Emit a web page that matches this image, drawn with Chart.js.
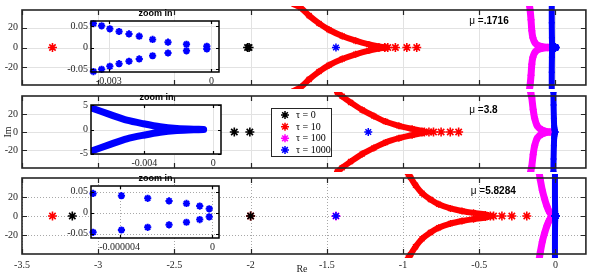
<!DOCTYPE html>
<html><head><meta charset="utf-8">
<script src="https://cdn.jsdelivr.net/npm/chart.js@4/dist/chart.umd.min.js"></script>
<style>
html,body{margin:0;padding:0;background:#fff;}
#wrap{position:relative;width:592px;height:277px;overflow:hidden;background:#fff;}
canvas{position:absolute;}
</style></head><body>
<div id="wrap">
<canvas id="p1" width="592" height="95" style="left:0;top:0;width:592px;height:95px"></canvas>
<canvas id="p2" width="592" height="92" style="left:0;top:86px;width:592px;height:92px"></canvas>
<canvas id="p3" width="592" height="109" style="left:0;top:168px;width:592px;height:109px"></canvas>
<canvas id="i1" width="180" height="85" style="left:45px;top:5px;width:180px;height:85px"></canvas>
<canvas id="i2" width="180" height="83" style="left:45px;top:89px;width:180px;height:83px"></canvas>
<canvas id="i3" width="180" height="86" style="left:45px;top:170px;width:180px;height:86px"></canvas>
</div>
<script>
// ---------- labels / ticks ----------
const seriesNames = ['τ = 0', 'τ = 10', 'τ = 100', 'τ = 1000'];
const seriesColors = ['#000000', '#ff0000', '#ff00ff', '#0000ff'];
const muLabels = ['.1716', '3.8', '5.8284'];
const mainXTicks = [-3.5, -3, -2.5, -2, -1.5, -1, -0.5, 0];
const mainXTickLabels = ['-3.5', '-3', '-2.5', '-2', '-1.5', '-1', '-0.5', '0'];
const mainYTicks = [-20, 0, 20];
const mainYTickLabels = ['-20', '0', '20'];
const inset1XTicks = [-0.003, 0];
const inset1XTickLabels = ['-0.003', '0'];
const inset1YTicks = [-0.05, 0, 0.05];
const inset1YTickLabels = ['-0.05', '0', '0.05'];
const inset2XTicks = [-0.004, 0];
const inset2XTickLabels = ['-0.004', '0'];
const inset2YTicks = [-5, 0, 5];
const inset2YTickLabels = ['-5', '0', '5'];
const inset3XTicks = [-0.000004, 0];
const inset3XTickLabels = ['-0.000004', '0'];
const inset3YTicks = [-0.05, 0, 0.05];
const inset3YTickLabels = ['-0.05', '0', '0.05'];

// ---------- data: panel 1 (mu = .1716) ----------  [Re, Im]; branches give the Im>=0 half
const p1Black = [[-2.02, 0], [-2.01, 0]];
const p1RedReal = [[-3.30, 0], [-1.12, 0], [-1.10, 0], [-1.05, 0], [-0.975, 0], [-0.91, 0]];
const p1RedUpper = [[-1.72, 44], [-1.671, 40.2], [-1.616, 32.3], [-1.551, 24.4], [-1.486, 18.0], [-1.399, 11.7], [-1.311, 6.9], [-1.224, 3.1], [-1.158, 0.95], [-1.115, 0.2]];
const p1MagentaUpper = [[-0.172, 44], [-0.166, 38], [-0.160, 28], [-0.155, 17], [-0.148, 10], [-0.135, 5], [-0.115, 2.2], [-0.085, 0.8], [-0.05, 0.2], [-0.03, 0]];
const p1BlueReal = [[-1.44, 0]];
const p1BlueUpper = [[-0.024, 44], [-0.024, 25], [-0.023, 10], [-0.022, 3], [-0.020, 0.5], [-0.018, 0]];
const p1BlueNearRe = [-0.00345, -0.00321, -0.00297, -0.0027, -0.00241, -0.00211, -0.00172, -0.00127, -0.00073, -0.000136];
const p1BlueNearIm = [0.056, 0.0507, 0.0438, 0.0375, 0.0319, 0.0265, 0.0191, 0.0127, 0.0077, 0.0031];

// ---------- data: panel 2 (mu = 3.8) ----------
const p2Black = [[-2.107, 0], [-2.005, 0]];
const p2RedReal = [[-0.86, 0], [-0.83, 0], [-0.80, 0], [-0.75, 0], [-0.69, 0], [-0.635, 0]];
const p2RedUpper = [[-1.43, 44], [-1.399, 39.7], [-1.344, 32.9], [-1.268, 24.5], [-1.191, 17.7], [-1.115, 11.6], [-1.027, 6.9], [-0.940, 3.5], [-0.875, 1.2], [-0.86, 0.3]];
const p2MagentaUpper = [[-0.162, 44], [-0.155, 38], [-0.146, 25], [-0.136, 15], [-0.120, 7], [-0.100, 3.5], [-0.070, 1.0], [-0.035, 0]];
const p2BlueReal = [[-1.228, 0]];
const p2BlueUpper = [[-0.013, 44], [-0.012, 30], [-0.010, 15], [-0.0085, 7], [-0.0079, 5.5], [-0.00709, 4.5], [-0.00598, 3.1], [-0.00502, 1.94], [-0.00405, 1.19], [-0.00308, 0.56], [-0.00211, 0.21], [-0.00113, 0.05], [-0.00056, 0.02]];

// ---------- data: panel 3 (mu = 5.8284) ----------
const p3Black = [[-3.17, 0], [-2.0, 0]];
const p3RedReal = [[-3.30, 0], [-2.0, 0], [-0.493, 0], [-0.46, 0], [-0.427, 0], [-0.406, 0], [-0.351, 0], [-0.286, 0], [-0.188, 0]];
const p3RedUpper = [[-0.965, 44], [-0.951, 40.7], [-0.918, 32.3], [-0.875, 24], [-0.820, 17.3], [-0.766, 12.3], [-0.689, 8], [-0.613, 5.3], [-0.537, 3.3], [-0.460, 1.7], [-0.44, 0.6]];
const p3MagentaReal = [[-1.44, 0]];
const p3MagentaUpper = [[-0.105, 44], [-0.099, 38], [-0.086, 27], [-0.071, 18], [-0.055, 10], [-0.042, 5], [-0.031, 2], [-0.024, 0.4]];
const p3BlueReal = [[-1.44, 0]];
const p3BlueUpper = [[-0.003, 44], [-0.003, 20], [-0.002, 5], [-0.001, 1], [-0.0002, 0.1]];
const p3BlueNearRe = [-5.14e-6, -3.92e-6, -2.79e-6, -1.87e-6, -1.12e-6, -0.55e-6, -0.14e-6];
const p3BlueNearIm = [0.0464, 0.0409, 0.0345, 0.0285, 0.0224, 0.0161, 0.0096];

// ---------- helpers ----------
const [BLACK, RED, MAG, BLUE] = seriesColors;
const xy = arr => arr.map(([x, y]) => ({ x, y }));
function conj(upper) { return upper.concat(upper.map(([x, y]) => [x, -y]).reverse()); }
function pairs(re, im) { return re.flatMap((x, i) => [[x, im[i]], [x, -im[i]]]); }
function pts(arr, color, r, w) {
  return { data: xy(arr), showLine: false, pointStyle: 'star', pointRadius: r, pointBorderWidth: w,
    borderColor: color, backgroundColor: color, pointBorderColor: color, clip: false };
}
function band(arr, color, lw, r, clip) {
  return { data: xy(arr), showLine: true, borderWidth: lw, borderColor: color, backgroundColor: color,
    pointStyle: 'star', pointRadius: r, pointBorderWidth: 1.5, pointBorderColor: color,
    borderJoinStyle: 'round', borderCapStyle: 'round', tension: 0.25, clip: clip };
}

const styles = {
  p1: { grid: '#e2e2e2', dash: [], frame: '#262626', fw: 1.6, tick: 5, fill: false },
  p2: { grid: '#e2e2e2', dash: [], frame: '#262626', fw: 1.6, tick: 5, fill: false },
  p3: { grid: '#a8a8a8', dash: [1, 2], frame: '#262626', fw: 1.6, tick: 5, fill: false },
  i1: { grid: '#e2e2e2', dash: [], frame: '#000', fw: 1.5, tick: 3, fill: true },
  i2: { grid: '#e2e2e2', dash: [], frame: '#000', fw: 1.5, tick: 3, fill: true },
  i3: { grid: '#a8a8a8', dash: [1, 2], frame: '#000', fw: 1.5, tick: 3, fill: true }
};

function drawStar(c, x, y, r, color, lw) {
  c.save(); c.strokeStyle = color; c.lineWidth = lw; c.beginPath();
  for (let k = 0; k < 4; k++) {
    const a = k * Math.PI / 4, dx = Math.cos(a) * r, dy = Math.sin(a) * r;
    c.moveTo(x - dx, y - dy); c.lineTo(x + dx, y + dy);
  }
  c.stroke(); c.restore();
}
function drawMu(ch, re, im, num) {
  const c = ch.ctx, x = ch.scales.x.getPixelForValue(re), y = ch.scales.y.getPixelForValue(im);
  c.save(); c.textBaseline = 'middle'; c.textAlign = 'left'; c.fillStyle = '#000';
  c.font = '10px "Liberation Sans", Arial, sans-serif';
  c.fillText('μ =', x, y); const w = c.measureText('μ =').width;
  c.font = 'bold 10px "Liberation Sans", Arial, sans-serif';
  c.fillText(num, x + w, y); c.restore();
}
function drawZoomTitle(ch) {
  const c = ch.ctx, a = ch.chartArea;
  c.save(); c.textAlign = 'center'; c.textBaseline = 'middle'; c.fillStyle = '#000';
  c.font = 'bold 9px "Liberation Sans", Arial, sans-serif';
  c.fillText('zoom in', (a.left + a.right) / 2 + 0.5, a.top - 7); c.restore();
}
function drawLegend(ch) {
  const c = ch.ctx;
  c.save(); c.fillStyle = '#fff'; c.fillRect(271, 22, 61, 49);
  c.strokeStyle = '#262626'; c.lineWidth = 1; c.strokeRect(271.5, 22.5, 60, 48);
  c.font = '10px "Liberation Serif", "Times New Roman", serif'; c.fillStyle = '#000';
  c.textBaseline = 'middle'; c.textAlign = 'left';
  seriesNames.forEach((n, i) => {
    const y = 29 + i * 11.65;
    drawStar(c, 285, y, 4, seriesColors[i], 1.5);
    c.fillText(n, 296, y + 0.5);
  });
  c.restore();
}
function drawAxisWord(ch, text, x, y, rot) {
  const c = ch.ctx; c.save(); c.translate(x, y); if (rot) c.rotate(-Math.PI / 2);
  c.font = '10px "Liberation Serif", "Times New Roman", serif'; c.fillStyle = '#262626';
  c.textAlign = 'center'; c.textBaseline = 'middle'; c.fillText(text, 0, 0); c.restore();
}

const extras = {
  p1: ch => drawMu(ch, -0.565, 26.5, muLabels[0]),
  p2: ch => { drawMu(ch, -0.565, 23.8, muLabels[1]); drawLegend(ch); const a = ch.chartArea; drawAxisWord(ch, 'Im', 8, (a.top + a.bottom) / 2, true); },
  p3: ch => { drawMu(ch, -0.555, 25.7, muLabels[2]); drawAxisWord(ch, 'Re', 302, 101, false); },
  i1: drawZoomTitle, i2: drawZoomTitle, i3: drawZoomTitle
};

const framePlugin = {
  id: 'mframe',
  beforeDraw(ch) {
    const s = styles[ch.canvas.id], a = ch.chartArea, c = ch.ctx;
    if (s.fill) { c.save(); c.fillStyle = '#fff'; c.fillRect(a.left, a.top, a.right - a.left, a.bottom - a.top); c.restore(); }
  },
  beforeDatasetsDraw(ch) {
    const s = styles[ch.canvas.id], a = ch.chartArea, c = ch.ctx, xs = ch.scales.x, ys = ch.scales.y;
    c.save(); c.strokeStyle = s.grid; c.lineWidth = 1; c.setLineDash(s.dash); c.beginPath();
    xs.ticks.forEach(t => { const p = Math.round(xs.getPixelForValue(t.value)) + 0.5; c.moveTo(p, a.top); c.lineTo(p, a.bottom); });
    ys.ticks.forEach(t => { const p = Math.round(ys.getPixelForValue(t.value)) + 0.5; c.moveTo(a.left, p); c.lineTo(a.right, p); });
    c.stroke(); c.restore();
  },
  afterDatasetsDraw(ch) {
    const s = styles[ch.canvas.id], a = ch.chartArea, c = ch.ctx, xs = ch.scales.x, ys = ch.scales.y, L = s.tick;
    c.save(); c.strokeStyle = s.frame; c.lineWidth = 1.2; c.beginPath();
    xs.ticks.forEach(t => { const p = Math.round(xs.getPixelForValue(t.value)) + 0.5;
      c.moveTo(p, a.top); c.lineTo(p, a.top + L); c.moveTo(p, a.bottom); c.lineTo(p, a.bottom - L); });
    ys.ticks.forEach(t => { const p = Math.round(ys.getPixelForValue(t.value)) + 0.5;
      c.moveTo(a.left, p); c.lineTo(a.left + L, p); c.moveTo(a.right, p); c.lineTo(a.right - L, p); });
    c.stroke();
    c.lineWidth = s.fw; c.strokeRect(a.left, a.top, a.right - a.left, a.bottom - a.top);
    c.restore();
  },
  afterDraw(ch) { const f = extras[ch.canvas.id]; if (f) f(ch); }
};

const tickFont = { family: '"Liberation Serif", "Times New Roman", serif', size: 10 };
function makeChart(id, o) {
  return new Chart(document.getElementById(id), {
    type: 'scatter',
    data: { datasets: o.datasets },
    options: {
      responsive: false, animation: false, devicePixelRatio: 1, events: [],
      layout: { padding: { top: o.padTop, right: o.padRight, left: 0, bottom: 0 } },
      plugins: { legend: { display: false }, tooltip: { enabled: false }, title: { display: false } },
      scales: {
        x: { type: 'linear', position: 'bottom', min: o.xMin, max: o.xMax, bounds: 'data',
          afterBuildTicks: s => { s.ticks = o.xTicks.map(v => ({ value: v })); },
          afterFit: s => { s.height = o.bottomH; },
          grid: { display: false, drawTicks: false }, border: { display: false },
          ticks: { display: o.showX, autoSkip: false, maxRotation: 0, minRotation: 0, padding: o.xPad,
            color: '#262626', font: tickFont, callback: (v, i) => o.xLabels[i] } },
        y: { type: 'linear', position: 'left', min: o.yMin, max: o.yMax, bounds: 'data',
          afterBuildTicks: s => { s.ticks = o.yTicks.map(v => ({ value: v })); },
          afterFit: s => { s.width = o.leftW; },
          grid: { display: false, drawTicks: false }, border: { display: false },
          ticks: { autoSkip: false, padding: o.yPad, color: '#262626', font: tickFont,
            callback: (v, i) => o.yLabels[i] } }
      }
    },
    plugins: [framePlugin]
  });
}

const mainBase = { xMin: -3.5, xMax: 0.2, xTicks: mainXTicks, xLabels: mainXTickLabels,
  yTicks: mainYTicks, yLabels: mainYTickLabels, leftW: 22, padRight: 5, yPad: 4, xPad: 5 };

makeChart('p1', Object.assign({}, mainBase, { yMin: -38, yMax: 38, padTop: 9, bottomH: 6, showX: false,
  datasets: [
    pts(pairs(p1BlueNearRe, p1BlueNearIm), BLUE, 4, 1.5),
    band(conj(p1BlueUpper), BLUE, 6, 3, 4),
    pts(p1BlueReal, BLUE, 4, 1.5),
    band(conj(p1MagentaUpper), MAG, 7, 3.5, 4),
    pts(p1Black, BLACK, 4.5, 1.6),
    band(conj(p1RedUpper), RED, 6, 3.5, 4),
    pts(p1RedReal, RED, 4.5, 1.6)
  ] }));

makeChart('p2', Object.assign({}, mainBase, { yMin: -40, yMax: 40, padTop: 7, bottomH: 6, showX: false,
  datasets: [
    band(conj(p2BlueUpper), BLUE, 6, 3, 4),
    pts(p2BlueReal, BLUE, 4, 1.5),
    band(conj(p2MagentaUpper), MAG, 7, 3.5, 4),
    pts(p2Black, BLACK, 4.5, 1.6),
    band(conj(p2RedUpper), RED, 6, 3.5, 4),
    pts(p2RedReal, RED, 4.5, 1.6)
  ] }));

makeChart('p3', Object.assign({}, mainBase, { yMin: -40, yMax: 40, padTop: 6, bottomH: 23, showX: true,
  datasets: [
    pts(pairs(p3BlueNearRe, p3BlueNearIm), BLUE, 4, 1.5),
    band(conj(p3BlueUpper), BLUE, 6, 3, 4),
    pts(p3BlueReal, BLUE, 4, 1.5),
    pts(p3MagentaReal, MAG, 4.5, 1.6),
    band(conj(p3MagentaUpper), MAG, 7, 3.5, 4),
    pts(p3Black, BLACK, 4.5, 1.6),
    band(conj(p3RedUpper), RED, 6, 3.5, 4),
    pts(p3RedReal, RED, 4.5, 1.6)
  ] }));

const insetBase = { leftW: 46, padRight: 4, padTop: 16, bottomH: 18, yPad: 3, xPad: 3, showX: true };
makeChart('i1', Object.assign({}, insetBase, { xMin: -0.00352, xMax: 0.00022, yMin: -0.057, yMax: 0.062,
  xTicks: inset1XTicks, xLabels: inset1XTickLabels, yTicks: inset1YTicks, yLabels: inset1YTickLabels,
  datasets: [pts(pairs(p1BlueNearRe, p1BlueNearIm), BLUE, 3.6, 2)] }));
makeChart('i2', Object.assign({}, insetBase, { xMin: -0.0071, xMax: 0.00045, yMin: -5.1, yMax: 5.1,
  xTicks: inset2XTicks, xLabels: inset2XTickLabels, yTicks: inset2YTicks, yLabels: inset2YTickLabels,
  datasets: [band(conj(p2BlueUpper), BLUE, 7, 0, 0)] }));
makeChart('i3', Object.assign({}, insetBase, { xMin: -5.23e-6, xMax: 2.8e-7, yMin: -0.06, yMax: 0.064,
  xTicks: inset3XTicks, xLabels: inset3XTickLabels, yTicks: inset3YTicks, yLabels: inset3YTickLabels,
  datasets: [pts(pairs(p3BlueNearRe, p3BlueNearIm), BLUE, 3.6, 2)] }));
</script>
</body></html>
